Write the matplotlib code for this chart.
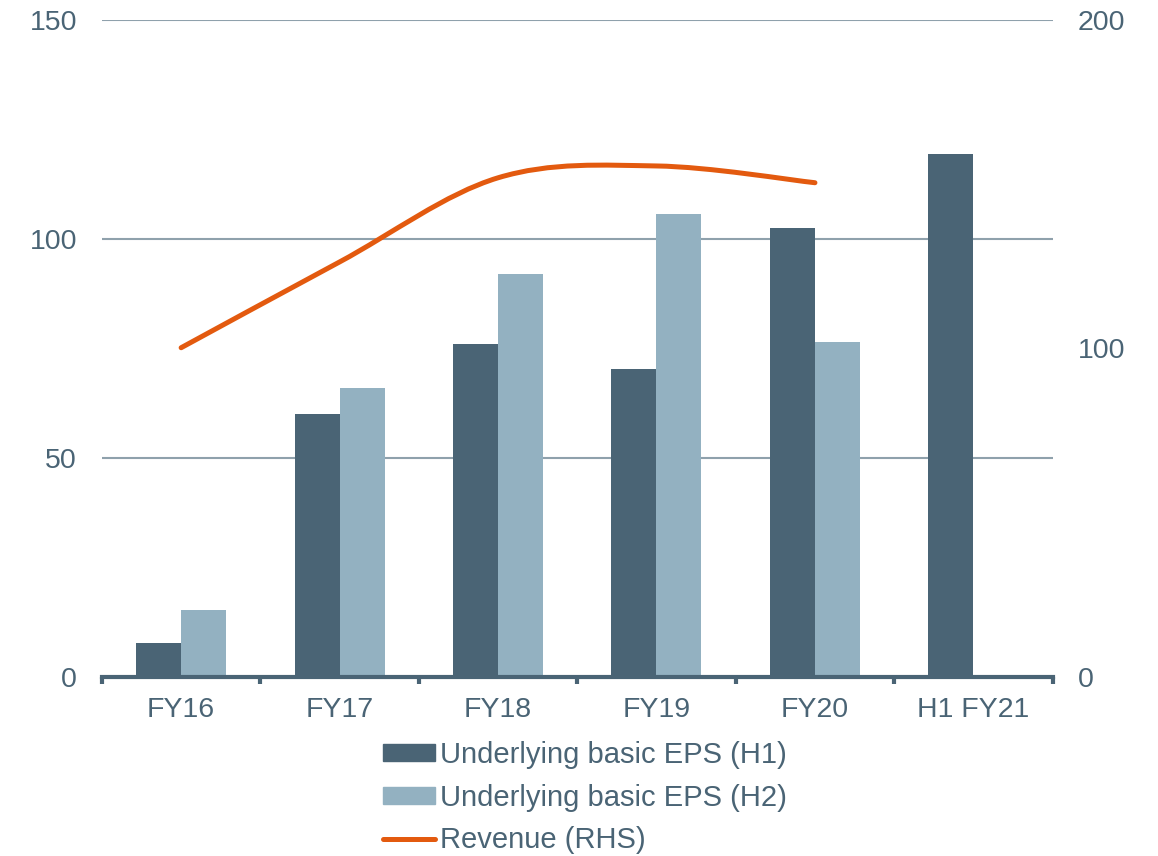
import matplotlib.pyplot as plt
import numpy as np
from matplotlib.path import Path
from matplotlib.patches import PathPatch
from matplotlib.lines import Line2D
from matplotlib.patches import Patch

plt.rcParams['font.family'] = ['Liberation Sans', 'DejaVu Sans']

categories = ['FY16', 'FY17', 'FY18', 'FY19', 'FY20', 'H1 FY21']
eps_h1 = [7.8, 60.0, 76.0, 70.3, 102.5, 119.4]
eps_h2 = [15.3, 66.0, 92.0, 105.7, 76.5, None]
revenue = [100.2, 126.3, 151.9, 155.5, 150.4]

dark = '#4a6475'
light = '#93b1c1'
orange = '#e35a0f'
txt = '#4a6475'
grid = '#8fa1ac'


def smooth_path(xs, ys, t=1 / 6):
    # Catmull-Rom style bezier, like Excel's smoothed line
    xs = np.asarray(xs, float)
    ys = np.asarray(ys, float)
    n = len(xs)
    verts = [(xs[0], ys[0])]
    codes = [Path.MOVETO]
    for i in range(n - 1):
        p0 = i - 1 if i > 0 else i
        p3 = i + 2 if i + 2 < n else i + 1
        c1 = (xs[i] + (xs[i + 1] - xs[p0]) * t, ys[i] + (ys[i + 1] - ys[p0]) * t)
        c2 = (xs[i + 1] - (xs[p3] - xs[i]) * t, ys[i + 1] - (ys[p3] - ys[i]) * t)
        verts += [c1, c2, (xs[i + 1], ys[i + 1])]
        codes += [Path.CURVE4] * 3
    return Path(verts, codes)


fig = plt.figure(figsize=(11.58, 8.56), dpi=100)
ax = fig.add_axes([0.088, 0.209, 0.821, 0.768])
x = np.arange(len(categories))
w = 0.284

ax.bar(x - w / 2, eps_h1, width=w, color=dark, zorder=3)
h2x = [xi + w / 2 for xi, v in zip(x, eps_h2) if v is not None]
h2v = [v for v in eps_h2 if v is not None]
ax.bar(h2x, h2v, width=w, color=light, zorder=3)

ax.set_xlim(-0.5, len(categories) - 0.5)
ax.set_ylim(0, 150)
ax.set_yticks([0, 50, 100, 150])
ax.grid(axis='y', color=grid, lw=1.5, zorder=0)
ax.set_xticks(np.arange(-0.5, len(categories), 1.0))
ax.set_xticklabels([])
ax.set_xticks(x, minor=True)
ax.set_xticklabels(categories, minor=True)
ax.tick_params(axis='x', which='major', direction='out', length=5, width=3, color=dark)
ax.tick_params(axis='x', which='minor', length=0, pad=14, labelsize=20.5, labelcolor=txt)
ax.tick_params(axis='y', length=0, pad=18, labelsize=20.5, labelcolor=txt)
for s in ['top', 'right', 'left']:
    ax.spines[s].set_visible(False)
ax.spines['bottom'].set_color(dark)
ax.spines['bottom'].set_linewidth(3)
ax.spines['bottom'].set_zorder(4)

ax2 = ax.twinx()
ax2.set_ylim(0, 200)
ax2.set_yticks([0, 100, 200])
ax2.tick_params(axis='y', length=0, pad=18, labelsize=20.5, labelcolor=txt)
for s in ax2.spines.values():
    s.set_visible(False)
path = smooth_path(x[:len(revenue)], revenue)
ax2.add_patch(PathPatch(path, fill=False, edgecolor=orange, lw=3.6,
                        capstyle='round', joinstyle='round', zorder=5))

handles = [Patch(color=dark), Patch(color=light),
           Line2D([], [], color=orange, lw=3.6, solid_capstyle='round')]
labels = ['Underlying basic EPS (H1)', 'Underlying basic EPS (H2)', 'Revenue (RHS)']
fig.legend(handles, labels, loc='upper center', bbox_to_anchor=(0.505, 0.134),
           frameon=False, fontsize=21, labelcolor=txt, handlelength=1.8,
           handleheight=0.52, handletextpad=0.17, labelspacing=0.5,
           borderaxespad=0, borderpad=0)

fig.savefig('out.png', dpi=100)
